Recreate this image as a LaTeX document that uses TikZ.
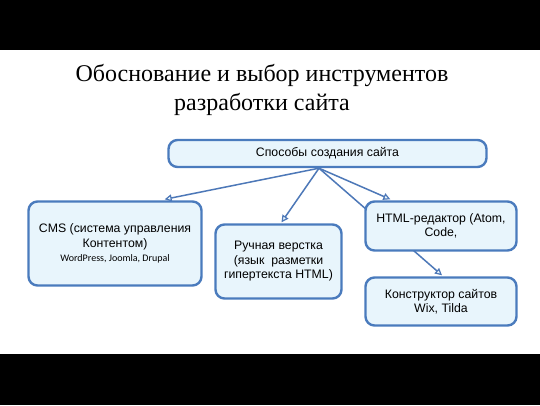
\documentclass[tikz,border=0pt]{standalone}
\usepackage{fontspec}
\setmainfont{Liberation Serif}
\setsansfont{Liberation Sans}
\newfontfamily\calib{Carlito}
\usetikzlibrary{arrows.meta,calc}
\pgfdeclarelayer{back}
\pgfdeclarelayer{background}
\pgfsetlayers{back,background,main}
\definecolor{boxborder}{HTML}{4A7BBD}
\definecolor{boxfill}{HTML}{E8F5FC}
\definecolor{linecol}{HTML}{4D78B8}
\tikzset{
  box/.style={draw=boxborder, line width=2.4pt, fill=boxfill, rounded corners=9pt,
    align=center, font=\sffamily\fontsize{12.3}{14.5}\selectfont, inner sep=2pt},
  conn/.style={draw=linecol, line width=1.5pt,
    -{Triangle[length=7pt,width=7pt,fill=boxfill,line width=1.2pt]}},
}
\begin{document}
\begin{tikzpicture}[x=1pt,y=-1pt]
\useasboundingbox (0,0) rectangle (540,405);
\begin{pgfonlayer}{back}
\fill[white] (0,0) rectangle (540,405);
\fill[black] (0,0) rectangle (540,50);
\fill[black] (0,354) rectangle (540,405);
\end{pgfonlayer}

\node[align=center, font=\fontsize{24}{28.5}\selectfont] (title) at (262,90)
  {Обоснование и выбор инструментов\\разработки сайта};

\node[box, minimum width=318pt, minimum height=27pt] (top) at (327.5,153.5)
  {Способы создания сайта};
\node[box, minimum width=173pt, minimum height=84pt] (cms) at (115,243.5)
  {CMS (система управления\\Контентом)\\{\calib\fontsize{10}{13}\selectfont WordPress, Joomla, Drupal}};
\node[box, minimum width=126pt, minimum height=74pt] (ruch) at (278.5,261.5)
  {Ручная верстка\\(язык\ \ разметки\\гипертекста HTML)};
\node[box, minimum width=151pt, minimum height=49pt] (html) at (441,226)
  {HTML-редактор (Atom,\\Code,};
\node[box, minimum width=151pt, minimum height=48pt] (konstr) at (441,301.5)
  {Конструктор сайтов\\Wix, Tilda};

\coordinate (o) at ($(top.south)+(-8.5,0)$);
\begin{pgfonlayer}{background}
\draw[conn] (o) -- ($(cms.north east)+(-38,-1)$);
\draw[conn] (o) -- ($(ruch.north)+(3,-1)$);
\draw[conn] (o) -- ($(html.north west)+(26,-1)$);
\draw[conn] (o) -- ($(konstr.north)+(1,-1)$);
\end{pgfonlayer}
\end{tikzpicture}
\end{document}
